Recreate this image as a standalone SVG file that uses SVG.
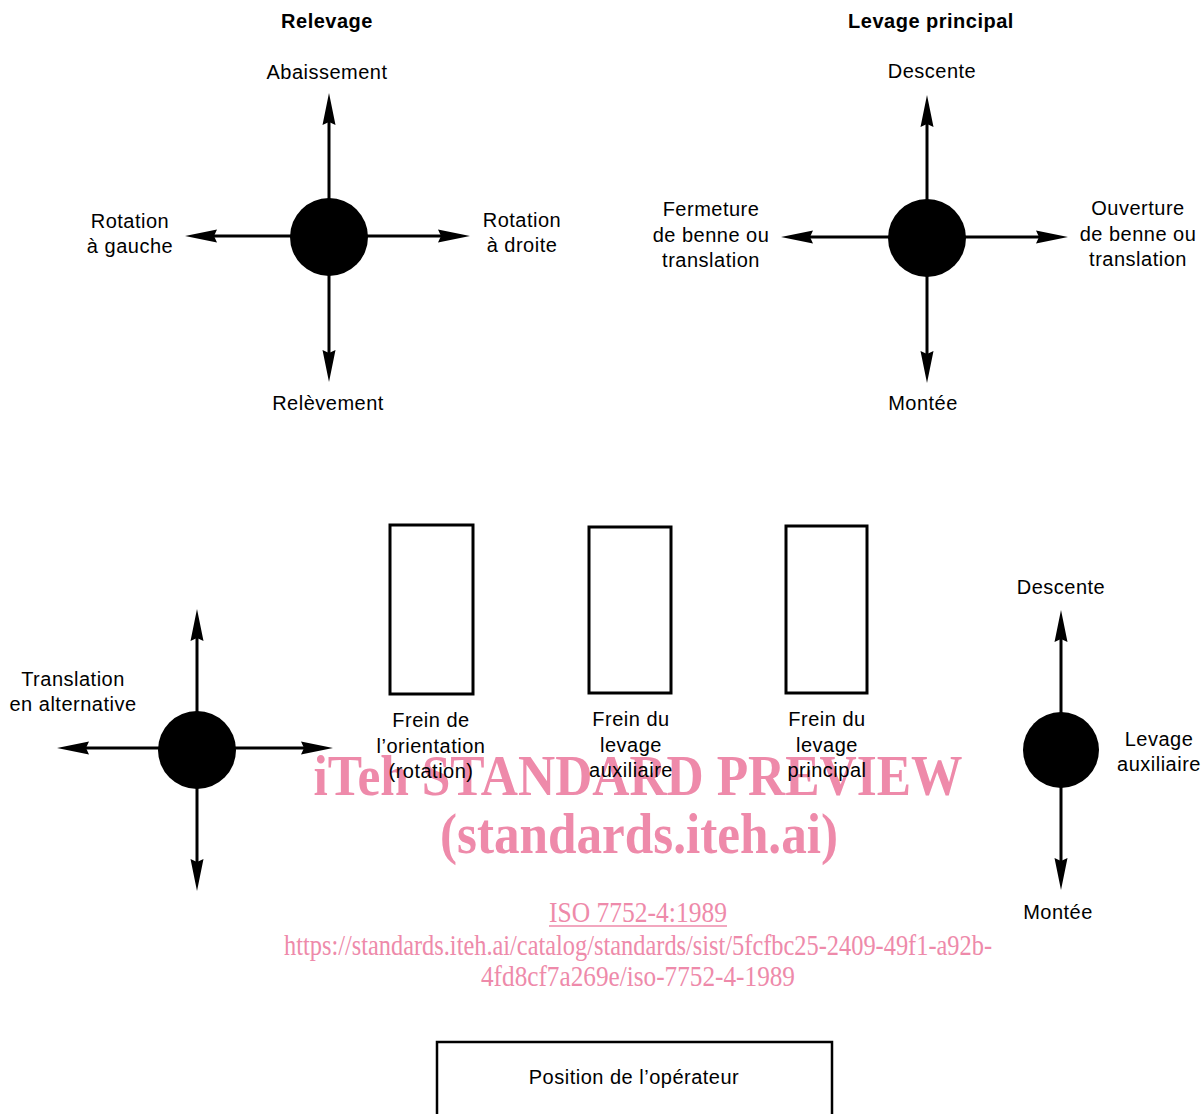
<svg xmlns="http://www.w3.org/2000/svg" width="1204" height="1114" viewBox="0 0 1204 1114">
<style>
.lbl{font-family:"Liberation Sans",Arial,sans-serif;font-size:20px;letter-spacing:0.5px;fill:#000;text-anchor:middle}
.ttl{font-family:"Liberation Sans",Arial,sans-serif;font-size:20px;font-weight:bold;letter-spacing:0.5px;fill:#000;text-anchor:middle}
.knob{fill:#000}
.brake{fill:none;stroke:#000;stroke-width:3}
.arr{stroke:#000;stroke-width:3;fill:none;marker-start:url(#ah);marker-end:url(#ah)}
.wm{font-family:"Liberation Serif","Times New Roman",serif;fill:#ee8aaa;text-anchor:middle}
</style>
<defs>
<marker id="ah" markerUnits="userSpaceOnUse" viewBox="-34 -8 36 16" markerWidth="36" markerHeight="16" refX="-20" refY="0" orient="auto-start-reverse">
<path d="M0,0 L-32,-6.5 L-29,0 L-32,6.5 Z" fill="#000"/>
</marker>
</defs>
<rect width="1204" height="1114" fill="#fff"/>
<g id="watermark">
<text class="wm" x="638" y="795" font-size="56" font-weight="bold" textLength="649" lengthAdjust="spacingAndGlyphs">iTeh STANDARD PREVIEW</text>
<text class="wm" x="639" y="853" font-size="56" font-weight="bold" textLength="398" lengthAdjust="spacingAndGlyphs">(standards.iteh.ai)</text>
<text class="wm" x="638" y="922" font-size="29" textLength="178" lengthAdjust="spacingAndGlyphs">ISO 7752-4:1989</text>
<line x1="549" y1="926" x2="727" y2="926" stroke="#ee8aaa" stroke-width="1.5"/>
<text class="wm" x="638" y="955" font-size="29" textLength="708" lengthAdjust="spacingAndGlyphs">https://standards.iteh.ai/catalog/standards/sist/5fcfbc25-2409-49f1-a92b-</text>
<text class="wm" x="638" y="986" font-size="29" textLength="314" lengthAdjust="spacingAndGlyphs">4fd8cf7a269e/iso-7752-4-1989</text>
</g>
<g id="connectors">
<line class="arr" x1="329" y1="113" x2="329" y2="362"/>
<line class="arr" x1="205" y1="236" x2="450" y2="236"/>
<line class="arr" x1="927" y1="115" x2="927" y2="363"/>
<line class="arr" x1="801" y1="237" x2="1048" y2="237"/>
<line class="arr" x1="197" y1="629" x2="197" y2="871"/>
<line class="arr" x1="77" y1="748" x2="313" y2="748"/>
<line class="arr" x1="1061" y1="630" x2="1061" y2="870"/>
</g>
<g id="relevage">
<text class="ttl" x="327" y="28">Relevage</text>
<circle class="knob" cx="329" cy="237" r="39"/>
<text class="lbl" x="327" y="79">Abaissement</text>
<text class="lbl" x="328" y="410">Relèvement</text>
<text class="lbl" x="130" y="228">Rotation</text>
<text class="lbl" x="130" y="253">à gauche</text>
<text class="lbl" x="522" y="227">Rotation</text>
<text class="lbl" x="522" y="252">à droite</text>
</g>
<g id="levage-principal">
<text class="ttl" x="931" y="28">Levage principal</text>
<circle class="knob" cx="927" cy="238" r="39"/>
<text class="lbl" x="932" y="78">Descente</text>
<text class="lbl" x="923" y="410">Montée</text>
<text class="lbl" x="711" y="216">Fermeture</text>
<text class="lbl" x="711" y="242">de benne ou</text>
<text class="lbl" x="711" y="267">translation</text>
<text class="lbl" x="1138" y="215">Ouverture</text>
<text class="lbl" x="1138" y="241">de benne ou</text>
<text class="lbl" x="1138" y="266">translation</text>
</g>
<g id="translation">
<circle class="knob" cx="197" cy="750" r="39"/>
<text class="lbl" x="73" y="686">Translation</text>
<text class="lbl" x="73" y="711">en alternative</text>
</g>
<g id="frein-orientation">
<rect class="brake" x="390" y="525" width="83" height="169"/>
<text class="lbl" x="431" y="727">Frein de</text>
<text class="lbl" x="431" y="753">l’orientation</text>
<text class="lbl" x="431" y="778">(rotation)</text>
</g>
<g id="frein-auxiliaire">
<rect class="brake" x="589" y="527" width="82" height="166"/>
<text class="lbl" x="631" y="726">Frein du</text>
<text class="lbl" x="631" y="752">levage</text>
<text class="lbl" x="631" y="777">auxiliaire</text>
</g>
<g id="frein-principal">
<rect class="brake" x="786" y="526" width="81" height="167"/>
<text class="lbl" x="827" y="726">Frein du</text>
<text class="lbl" x="827" y="752">levage</text>
<text class="lbl" x="827" y="777">principal</text>
</g>
<g id="levage-auxiliaire">
<circle class="knob" cx="1061" cy="750" r="38"/>
<text class="lbl" x="1061" y="594">Descente</text>
<text class="lbl" x="1058" y="919">Montée</text>
<text class="lbl" x="1159" y="746">Levage</text>
<text class="lbl" x="1159" y="771">auxiliaire</text>
</g>
<g id="operateur">
<rect x="437" y="1042" width="395" height="100" fill="none" stroke="#000" stroke-width="2.5"/>
<text class="lbl" x="634" y="1084">Position de l’opérateur</text>
</g>
</svg>
